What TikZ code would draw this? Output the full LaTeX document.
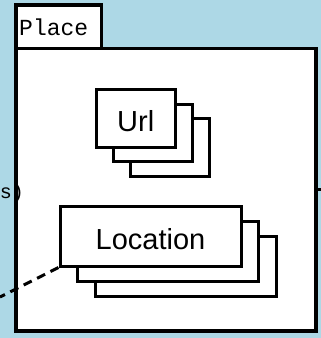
\documentclass[tikz,border=0pt]{standalone}
\usepackage{fontspec}
\newfontfamily\cardfont{Liberation Sans}
\newfontfamily\tagfont{Liberation Mono}
\usetikzlibrary{positioning}
\definecolor{skyback}{HTML}{ADD8E6}
\definecolor{ink}{HTML}{000000}

\begin{document}
\begin{tikzpicture}[
  x=1pt,y=-1pt,
  line cap=butt,line join=miter,
  frame/.style={draw=ink,fill=white,line width=3.2pt,inner sep=0pt},
  card/.style={draw=ink,fill=white,line width=3pt,inner sep=0pt},
  urlcard/.style={card,minimum width=78.5pt,minimum height=57.5pt},
  loccard/.style={card,minimum width=181pt,minimum height=59.5pt},
  cardtext/.style={font=\cardfont\fontsize{29}{29}\selectfont,
                   text height=26pt,text depth=0pt},
  tagtext/.style={font=\tagfont\fontsize{23}{23}\selectfont,inner sep=0pt},
  edgetext/.style={font=\tagfont\fontsize{20}{20}\selectfont,inner sep=0pt},
  link/.style={draw=ink,line width=3pt},
  dashlink/.style={link,dash pattern=on 9pt off 6pt}
]
\useasboundingbox (0,0) rectangle (321,338);
\fill[skyback] (0,0) rectangle (321,338);

% package frame with its name tab
\node[frame,minimum width=85.5pt,minimum height=43.5pt] (placetab) at (58.75,26.75) {};
\node[tagtext,anchor=base west] (placename) at (19,35) {Place};
\node[frame,minimum width=300pt,minimum height=282.5pt] (place) at (166,189.75) {};

% stacked classes
\node[urlcard] (url3) at (169.75,147.25) {};
\node[urlcard] (url2) at (152.75,132.75) {};
\node[urlcard,cardtext] (url) at (135.75,118.25) {Url};

\node[loccard] (loc3) at (185.5,266.25) {};
\node[loccard] (loc2) at (168,251.25) {};
\node[loccard,cardtext] (location) at (150.5,236.25) {Location};

% links leaving the frame
\coordinate (placein) at (0,297);
\coordinate (placeout) at (321,189.75);
\draw[dashlink] (location.south west) -- (placein);
\draw[link] (place.east) -- (placeout);
\node[edgetext,anchor=base east] (inlabel) at (24,198) {s)};
\end{tikzpicture}
\end{document}
